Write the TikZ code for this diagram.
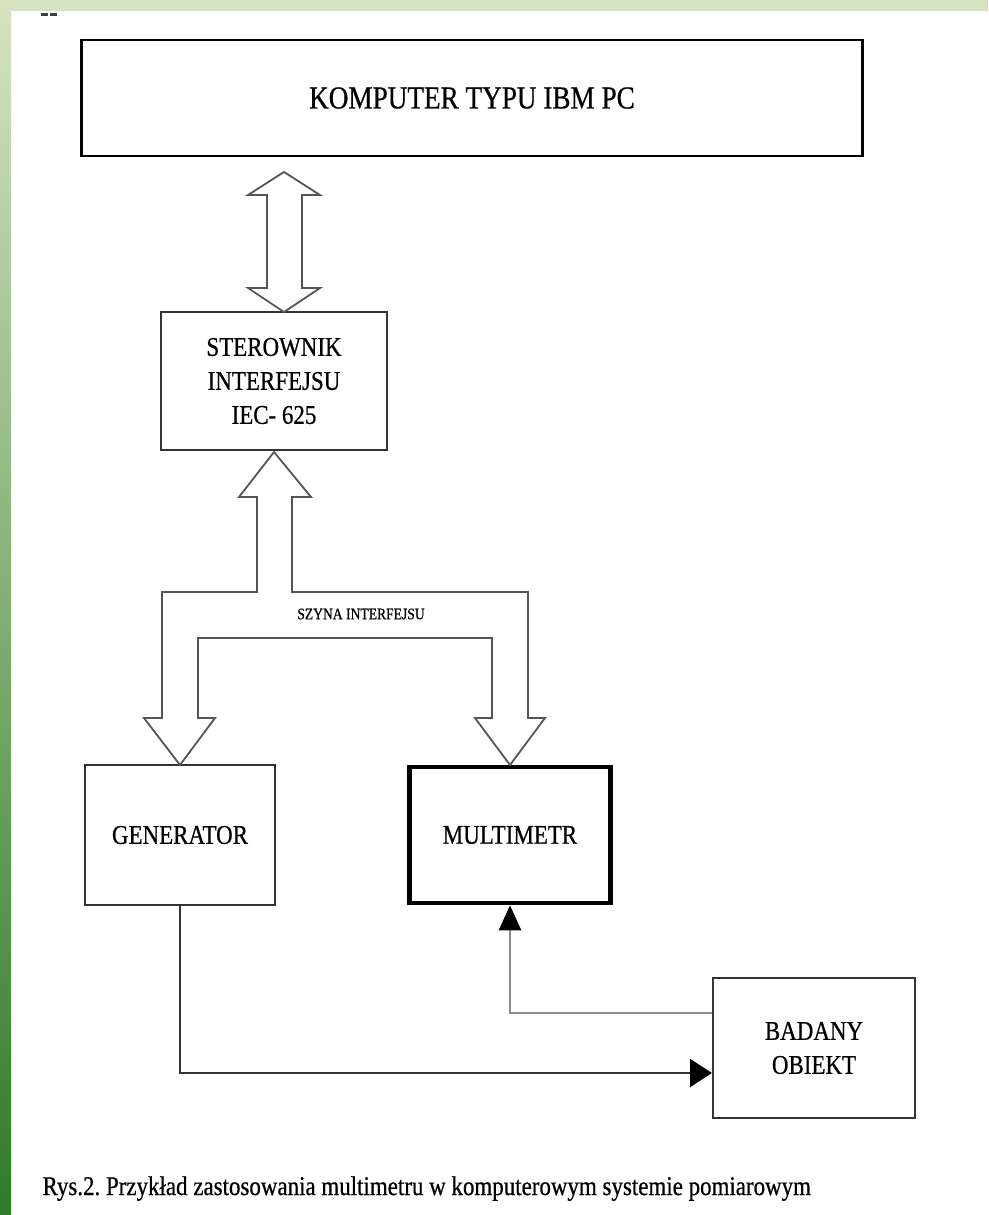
\documentclass[tikz,border=0pt]{standalone}
\usepackage{fontspec}
\setmainfont{Liberation Serif}[FakeStretch=0.85, FakeBold=0.6]
\usetikzlibrary{arrows.meta,calc}

\definecolor{tlojasne}{HTML}{D5E3C2}
\definecolor{tlosrodek}{HTML}{A3BC7A}
\definecolor{tlociemne}{HTML}{2F7A27}
\definecolor{szynaszara}{HTML}{555555}
\definecolor{pomiarszary}{HTML}{8C8C8C}

\tikzset{
  blok/.style={draw=black!80, line width=2pt, fill=white, align=center, inner sep=0pt,
    font=\fontsize{27}{34}\selectfont},
  szyna/.style={draw=szynaszara, line width=1.8pt, fill=white, line join=miter},
  sygnal/.style={line width=2pt},
}

\begin{document}
\frenchspacing
\begin{tikzpicture}[x=1pt,y=-1pt]
	\useasboundingbox (0,0) rectangle (988,1215);
	
	% tlo slajdu
	\fill[white] (0,0) rectangle (988,1215);
	\fill[tlojasne] (0,0) rectangle (988,11);
	\shade[top color=tlojasne, middle color=tlosrodek, bottom color=tlociemne] (0,0) rectangle (11,1215);
	\fill[black!75] (41,13.5) rectangle (48,16.5);
	\fill[black!75] (50,13.5) rectangle (57,16.5);
	
	% bloki
	\node[blok, minimum width=781pt, minimum height=116pt, draw=black, line width=2.6pt,
		font=\fontsize{32}{38}\selectfont] (komputer) at (472,98) {KOMPUTER TYPU IBM PC};
	\node[blok, minimum width=226pt, minimum height=138pt] (sterownik) at (274,381) {STEROWNIK\\INTERFEJSU\\IEC- 625};
	\node[blok, minimum width=190pt, minimum height=140pt] (generator) at (180,835) {GENERATOR};
	\node[blok, minimum width=201pt, minimum height=136pt, draw=black, line width=4.5pt] (multimetr) at (510,835) {MULTIMETR};
	\node[blok, minimum width=202pt, minimum height=140pt] (obiekt) at (814,1048) {BADANY\\OBIEKT};
	
	% strzalka komputer - sterownik
	\draw[szyna] (284,172) -- (320,195) -- (302,195) -- (302,288) -- (320,288) -- (284,312)
		-- (248,288) -- (267,288) -- (267,195) -- (248,195) -- cycle;
	
	% szyna interfejsu
	\draw[szyna] (274,452) -- (311,497) -- (292,497) -- (292,592) -- (528,592) -- (528,718)
		-- (545,718) -- (510,765) -- (475,718) -- (492,718) -- (492,638) -- (198,638)
		-- (198,718) -- (215,718) -- (180,765) -- (144,718) -- (162,718) -- (162,592)
		-- (257,592) -- (257,497) -- (239,497) -- cycle;
	\node[font=\fontsize{16}{18}\selectfont] (etykieta) at (361,614) {SZYNA INTERFEJSU};
	
	% sygnaly
	\draw[sygnal, black!80, -{Triangle[length=22pt,width=28pt,black]}] (generator.south) |- ($(obiekt.west)+(0,25)$);
	\draw[sygnal, pomiarszary, line width=2.5pt, -{Triangle[length=25pt,width=22pt,black]}]
		($(obiekt.west)+(0,-35)$) -| (multimetr.south);
	
	\node[font=\fontsize{27}{30}\selectfont, anchor=base west] (podpis) at (39,1195)
		{Rys.2. Przykład zastosowania multimetru w komputerowym systemie pomiarowym};
\end{tikzpicture}
\end{document}
